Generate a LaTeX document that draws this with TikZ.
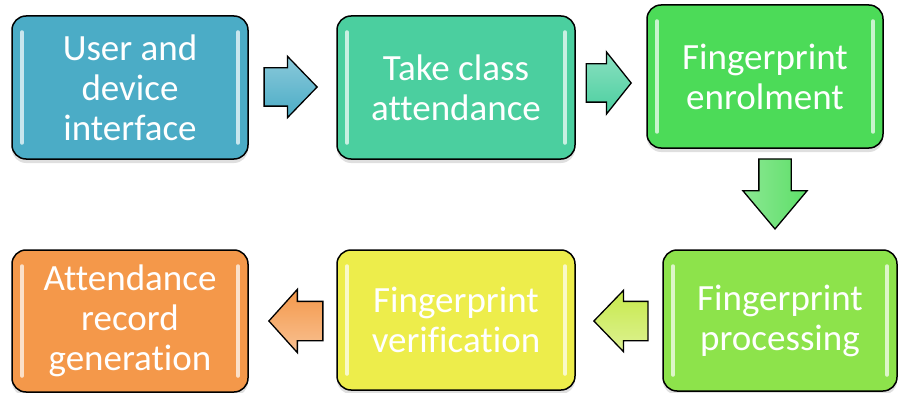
\documentclass[tikz,border=0pt]{standalone}
\usepackage{fontspec}
\setmainfont{Carlito}[Ligatures=NoCommon]
\usetikzlibrary{shapes.arrows,shadows}
\definecolor{cblue}{HTML}{4BACC6}
\definecolor{cteal}{HTML}{4BCF9F}
\definecolor{cgreen}{HTML}{4CDB58}
\definecolor{clime}{HTML}{8DE34B}
\definecolor{cyellow}{HTML}{EDED4B}
\definecolor{corange}{HTML}{F4984A}
\tikzset{
  stage/.style={draw=black, line width=1.5pt, rounded corners=14pt,
    minimum width=236pt, minimum height=142pt, inner sep=0pt,
    text=white, align=center,
    font=\fontsize{37}{40}\selectfont,
    drop shadow={shadow xshift=0pt, shadow yshift=-4pt, opacity=0.25},
    path picture={
      \draw[white, opacity=0.7, line width=3.5pt, line cap=round]
        ([xshift=10pt,yshift=-16pt]path picture bounding box.north west) --
        ([xshift=10pt,yshift=16pt]path picture bounding box.south west);
      \draw[white, opacity=0.7, line width=3.5pt, line cap=round]
        ([xshift=-10pt,yshift=-16pt]path picture bounding box.north east) --
        ([xshift=-10pt,yshift=16pt]path picture bounding box.south east);
    }},
  flow/.style={single arrow, draw=black, line width=1.3pt, inner xsep=0pt,
    single arrow head indent=0pt, anchor=tip}
}
\begin{document}
\begin{tikzpicture}[x=1pt,y=-1pt]
\useasboundingbox (0,0) rectangle (899,393);
\node[stage, fill=cblue, minimum width=236pt, minimum height=143pt] (b1) at (130,87.5) {User and\\device\\interface};
\node[stage, fill=cteal, minimum width=238pt, minimum height=143pt] (b2) at (456,87.5) {Take class\\attendance};
\node[stage, fill=cgreen, minimum width=236pt, minimum height=143pt] (b3) at (765,76.5) {Fingerprint\\enrolment};
\node[stage, fill=clime, minimum width=234pt, minimum height=141pt] (b4) at (780,320.5) {Fingerprint\\processing};
\node[stage, fill=cyellow, minimum width=238pt, minimum height=140pt] (b5) at (456,320) {Fingerprint\\verification};
\node[stage, fill=corange, minimum width=236pt, minimum height=142pt] (b6) at (130,321) {Attendance\\record\\generation};

\node[flow, minimum height=53pt, inner ysep=18.5pt, single arrow head extend=11.5pt,
  single arrow tip angle=92, top color=cblue!65!white, bottom color=cblue] (a1) at (318,87) {};
\node[flow, minimum height=45pt, inner ysep=18.5pt, single arrow head extend=12pt,
  single arrow tip angle=103, top color=cteal!65!white, bottom color=cteal] (a2) at (632,83) {};
\node[flow, rotate=-90, minimum height=70pt, inner ysep=15.5pt, single arrow head extend=16pt,
  single arrow tip angle=80, left color=cgreen!65!white, right color=cgreen!90!white] (a3) at (775,230) {};
\node[flow, rotate=180, minimum height=54pt, inner ysep=19pt, single arrow head extend=11pt,
  single arrow tip angle=92, bottom color=cyellow!60!clime!60!white, top color=cyellow!60!clime] (a4) at (593,321) {};
\node[flow, rotate=180, minimum height=54pt, inner ysep=19pt, single arrow head extend=12pt,
  single arrow tip angle=96, bottom color=corange!60!white, top color=corange] (a5) at (268,321) {};
\end{tikzpicture}
\end{document}
